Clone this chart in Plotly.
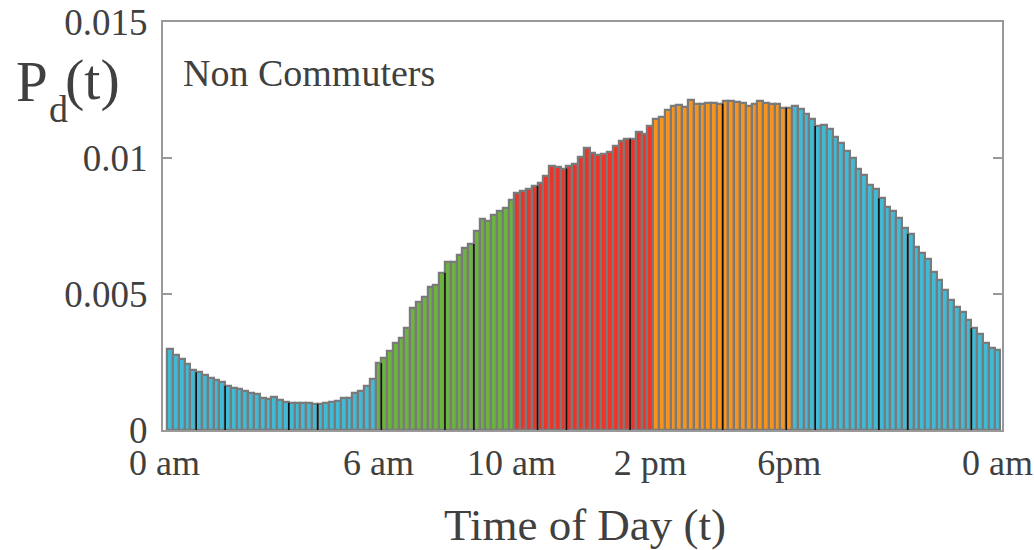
import plotly.graph_objects as go

# 10-minute bins over the day (1..144), probability of departure P_d(t)
bins = list(range(1, 145))
pd_values = [
    0.00298, 0.00276, 0.00260, 0.00242, 0.00219, 0.00212, 0.00202, 0.00192, 0.00184, 0.00178,
    0.00163, 0.00153, 0.00151, 0.00144, 0.00137, 0.00131, 0.00117, 0.00114, 0.00120, 0.00110,
    0.00104, 0.00100, 0.00099, 0.00098, 0.00098, 0.00096, 0.00096, 0.00098, 0.00103, 0.00105,
    0.00117, 0.00117, 0.00135, 0.00143, 0.00161, 0.00187, 0.00246, 0.00264, 0.00292, 0.00320,
    0.00339, 0.00374, 0.00447, 0.00472, 0.00490, 0.00526, 0.00533, 0.00578, 0.00618, 0.00618,
    0.00643, 0.00669, 0.00684, 0.00731, 0.00776, 0.00770, 0.00792, 0.00805, 0.00818, 0.00846,
    0.00872, 0.00879, 0.00886, 0.00897, 0.00907, 0.00934, 0.00971, 0.00967, 0.00961, 0.00970,
    0.00978, 0.01005, 0.01037, 0.01018, 0.01012, 0.01016, 0.01022, 0.01044, 0.01063, 0.01070,
    0.01070, 0.01096, 0.01088, 0.01118, 0.01143, 0.01152, 0.01176, 0.01192, 0.01196, 0.01187,
    0.01212, 0.01199, 0.01199, 0.01203, 0.01203, 0.01199, 0.01208, 0.01208, 0.01207, 0.01203,
    0.01192, 0.01200, 0.01211, 0.01201, 0.01198, 0.01197, 0.01185, 0.01185, 0.01193, 0.01180,
    0.01160, 0.01145, 0.01118, 0.01121, 0.01106, 0.01078, 0.01054, 0.01024, 0.00999, 0.00961,
    0.00938, 0.00901, 0.00885, 0.00852, 0.00819, 0.00805, 0.00778, 0.00742, 0.00721, 0.00674,
    0.00650, 0.00628, 0.00582, 0.00551, 0.00515, 0.00478, 0.00453, 0.00435, 0.00404, 0.00374,
    0.00352, 0.00321, 0.00300, 0.00294,
]

# colour periods (start hour of each period)
period_start_hours = [0, 6, 10, 14, 18]
period_colors = ["#41BAD6", "#6CB33F", "#EC3528", "#F7941E", "#41BAD6"]

# bin boundaries that render as dark lines in the original
dark_edges = [5, 10, 21, 26, 37, 48, 53, 64, 69, 80, 96, 107, 112, 123, 128, 139]

# x tick labels
tick_pos = [0, 37, 60, 84, 108, 144]
tick_text = ["0 am", "6 am", "10 am", "2 pm", "6pm", "0 am"]

y_ticks = [0, 0.005, 0.01, 0.015]
y_tick_text = ["0", "0.005", "0.01", "0.015"]

BINS_PER_HOUR = 6


def color_for(b):
    hour = (b - 1) / BINS_PER_HOUR
    c = period_colors[0]
    for h, col in zip(period_start_hours, period_colors):
        if hour >= h:
            c = col
    return c


bar_colors = [color_for(b) for b in bins]

FONT = "Liberation Serif"
TXT = "#404040"
AX = "#999999"

fig = go.Figure()
fig.add_trace(go.Bar(
    x=bins, y=pd_values,
    marker=dict(color=bar_colors, line=dict(color="#7a7a7a", width=2.2)),
    width=1.0,
    hoverinfo="skip",
))

lx, ly = [], []
for e in dark_edges:
    h = min(pd_values[e - 1], pd_values[e])
    lx += [e + 0.5, e + 0.5, None]
    ly += [0, h, None]
fig.add_trace(go.Scatter(
    x=lx, y=ly, mode="lines",
    line=dict(color="#111111", width=1.6),
    hoverinfo="skip",
))


def label(text, x, y, size, xanchor="left"):
    return dict(text=text, xref="paper", yref="paper", x=x, y=y,
                xanchor=xanchor, yanchor="middle", showarrow=False,
                font=dict(family=FONT, size=size, color=TXT))


fig.update_layout(
    width=1034, height=550,
    margin=dict(l=163, r=32, t=22, b=120),
    paper_bgcolor="white", plot_bgcolor="white",
    bargap=0, showlegend=False,
    font=dict(family=FONT, color=TXT),
    xaxis=dict(
        range=[-0.24, 144.79], automargin=False,
        tickvals=tick_pos, ticktext=tick_text,
        ticks="", showline=True, linecolor=AX, linewidth=2, mirror=True,
        showgrid=False, zeroline=False,
        tickfont=dict(family=FONT, size=36, color=TXT),
    ),
    yaxis=dict(
        range=[0, 0.015], automargin=False,
        tickvals=y_ticks, ticktext=y_tick_text,
        ticks="inside", ticklen=9, tickwidth=2, tickcolor=AX,
        showline=True, linecolor=AX, linewidth=2, mirror="ticks",
        showgrid=False, zeroline=False, ticklabelstandoff=6,
        tickfont=dict(family=FONT, size=37, color=TXT),
    ),
    annotations=[
        label("P", -0.178, 0.855, 57),
        label("d", -0.138, 0.787, 38),
        label("(t)", -0.119, 0.858, 58),
        label("Non Commuters", 0.021, 0.875, 38),
        label("Time of Day (t)", 0.503, -0.232, 45, xanchor="center"),
    ],
)

fig.write_html("out.html")
